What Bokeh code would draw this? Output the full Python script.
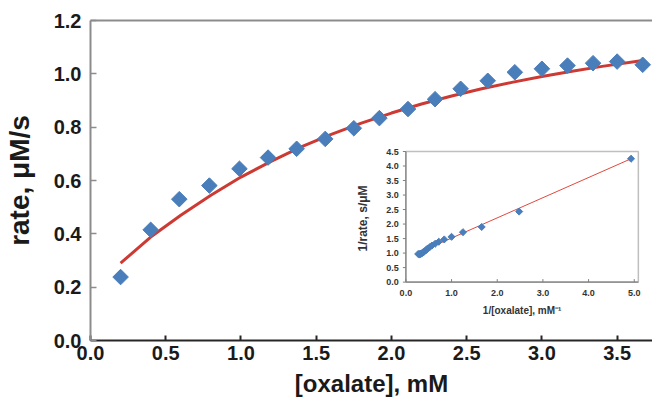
import numpy as np
from bokeh.plotting import figure
from bokeh.models import Range1d, SingleIntervalTicker, NumeralTickFormatter, LinearAxis, FixedTicker
from bokeh.core.properties import value
from bokeh.embed import file_html
from bokeh.resources import INLINE

# ---- data ----
conc = [0.20, 0.40, 0.59, 0.79, 0.99, 1.18, 1.37, 1.56, 1.75, 1.92,
        2.11, 2.29, 2.46, 2.64, 2.82, 3.00, 3.17, 3.34, 3.50, 3.67]
rate = [0.238, 0.415, 0.530, 0.581, 0.644, 0.686, 0.719, 0.756, 0.796, 0.834,
        0.868, 0.905, 0.944, 0.974, 1.006, 1.019, 1.031, 1.040, 1.046, 1.034]

fit_conc = [0.20, 0.40, 0.60, 0.80, 1.00, 1.20, 1.40, 1.60, 1.80, 2.00,
            2.20, 2.40, 2.60, 2.80, 3.00, 3.20, 3.40, 3.67]
fit_rate = [0.290, 0.388, 0.470, 0.545, 0.613, 0.672, 0.726, 0.773, 0.815, 0.853,
            0.887, 0.917, 0.944, 0.968, 0.990, 1.010, 1.028, 1.050]

inv_conc = [4.93, 2.48, 1.66, 1.25, 1.00, 0.84, 0.72, 0.64, 0.57, 0.52,
            0.47, 0.44, 0.41, 0.38, 0.35, 0.33, 0.32, 0.30, 0.29, 0.27]
inv_rate = [4.25, 2.43, 1.90, 1.72, 1.56, 1.47, 1.39, 1.32, 1.26, 1.20,
            1.15, 1.10, 1.06, 1.03, 0.99, 0.98, 0.97, 0.96, 0.96, 0.97]

lb_x = [0.27, 4.93]
lb_y = [1.01, 4.25]

inset_xticks = [0.0, 1.0, 2.0, 3.0, 4.0, 5.0]
inset_yticks = [0.0, 0.5, 1.0, 1.5, 2.0, 2.5, 3.0, 3.5, 4.0, 4.5]
inset_xmax = 5.09
inset_ymax = 4.5

BLUE = "#4A7EBB"
RED = "#CC3A33"
SANS = "Liberation Sans"
TXT = "#1a1a1a"
ITXT = "#333333"

# ---- layout geometry (figure pixels) ----
W, H = 652, 403
ML, MR, MT, MB = 88, 0, 20, 63
XMAX, YMAX = 3.735, 1.2001
frame_w = W - ML - MR
frame_h = H - MT - MB
# inset frame box inside the main frame, in pixels from the frame's left / bottom
ins_left, ins_right = 316.5, 549.8
ins_bottom, ins_top = 58.4, 189.0

def extra_range(lo_px, hi_px, vmax, total_px):
    f0 = lo_px / total_px
    f1 = hi_px / total_px
    span = vmax / (f1 - f0)
    s = -f0 * span
    return Range1d(s, s + span)

# ---- main chart ----
p = figure(width=W, height=H, output_backend="svg", toolbar_location=None,
           x_range=Range1d(0, XMAX), y_range=Range1d(0, YMAX),
           min_border_left=ML, min_border_right=MR, min_border_top=MT,
           min_border_bottom=MB)
p.outline_line_color = None
p.grid.visible = False
p.extra_x_ranges = {"ix": extra_range(ins_left, ins_right, inset_xmax, frame_w)}
p.extra_y_ranges = {"iy": extra_range(ins_bottom, ins_top, inset_ymax, frame_h)}

p.line(fit_conc, fit_rate, line_color=RED, line_width=3)
p.scatter(conc, rate, marker="square", angle=np.pi / 4, size=11,
          fill_color=BLUE, line_color=BLUE)

xa = p.xaxis[0]
xa.ticker = SingleIntervalTicker(interval=0.5, num_minor_ticks=0)
xa.formatter = NumeralTickFormatter(format="0.0")
xa.axis_line_color = "#262626"
xa.axis_line_width = 2
xa.major_tick_in = 5
xa.major_tick_out = 0
xa.major_tick_line_color = "#262626"
xa.major_tick_line_width = 2
xa.minor_tick_line_color = None
xa.major_label_text_font = SANS
xa.major_label_text_font_style = "bold"
xa.major_label_text_font_size = "20px"
xa.major_label_text_color = TXT
xa.major_label_standoff = 5
xa.axis_label = "[oxalate], mM"
xa.axis_label_text_font = SANS
xa.axis_label_text_font_style = "bold"
xa.axis_label_text_font_size = "24px"
xa.axis_label_text_color = TXT
xa.axis_label_standoff = 7

ya = p.yaxis[0]
ya.ticker = SingleIntervalTicker(interval=0.2, num_minor_ticks=0)
ya.formatter = NumeralTickFormatter(format="0.0")
ya.axis_line_color = "#8c8c8c"
ya.axis_line_width = 2
ya.major_tick_in = 6
ya.major_tick_out = 0
ya.major_tick_line_color = "#8c8c8c"
ya.major_tick_line_width = 1.5
ya.minor_tick_line_color = None
ya.major_label_text_font = SANS
ya.major_label_text_font_style = "bold"
ya.major_label_text_font_size = "20px"
ya.major_label_text_color = TXT
ya.major_label_standoff = 9
ya.axis_label = "rate, μM/s"
ya.axis_label_text_font = SANS
ya.axis_label_text_font_style = "bold"
ya.axis_label_text_font_size = "28px"
ya.axis_label_text_color = TXT
ya.axis_label_standoff = 16

top_axis = LinearAxis(ticker=FixedTicker(ticks=[]),
                      axis_line_color="#8c8c8c", axis_line_width=2,
                      major_tick_in=0, major_tick_out=0,
                      minor_tick_in=0, minor_tick_out=0)
p.add_layout(top_axis, "above")

# ---- inset (Lineweaver-Burk), drawn on the extra ranges ----
R = dict(x_range_name="ix", y_range_name="iy")
px_per_ix = (ins_right - ins_left) / inset_xmax
px_per_iy = (ins_top - ins_bottom) / inset_ymax
tick_dx = 3.0 / px_per_ix
tick_dy = 3.0 / px_per_iy

p.quad(left=[0], right=[inset_xmax], bottom=[0], top=[inset_ymax],
       fill_color="white", line_color="#bfbfbf", line_width=1.5, **R)
p.segment(x0=[0, 0], y0=[0, 0], x1=[0, inset_xmax], y1=[inset_ymax, 0],
          line_color="#808080", line_width=1.2, **R)
# y ticks (outside) and x ticks (inside)
p.segment(x0=[-tick_dx] * len(inset_yticks), y0=inset_yticks,
          x1=[0] * len(inset_yticks), y1=inset_yticks,
          line_color="#808080", line_width=1, **R)
p.segment(x0=inset_xticks, y0=[0] * len(inset_xticks),
          x1=inset_xticks, y1=[tick_dy] * len(inset_xticks),
          line_color="#808080", line_width=1, **R)

p.line(lb_x, lb_y, line_color="#E0483F", line_width=1, **R)
p.scatter(inv_conc, inv_rate, marker="square", angle=np.pi / 4, size=5,
          fill_color=BLUE, line_color=BLUE, **R)

p.text(x=[0] * len(inset_yticks), y=inset_yticks,
       text=[f"{t:.1f}" for t in inset_yticks],
       x_offset=-7, text_align="right", text_baseline="middle",
       text_font=value(SANS), text_font_style="bold", text_font_size="9px",
       text_color=ITXT, **R)
p.text(x=inset_xticks, y=[0] * len(inset_xticks),
       text=[f"{t:.1f}" for t in inset_xticks],
       y_offset=8, text_align="center", text_baseline="top",
       text_font=value(SANS), text_font_style="bold", text_font_size="9px",
       text_color=ITXT, **R)
p.text(x=[inset_xmax / 2], y=[0], text=["1/[oxalate], mM⁻¹"],
       y_offset=23, text_align="center", text_baseline="top",
       text_font=value(SANS), text_font_style="bold", text_font_size="10px",
       text_color=ITXT, **R)
p.text(x=[0], y=[inset_ymax / 2], text=["1/rate,  s/μM"],
       x_offset=-36, angle=np.pi / 2, text_align="center", text_baseline="bottom",
       text_font=value(SANS), text_font_style="bold", text_font_size="12px",
       text_color=ITXT, **R)

open("out.html", "w").write(file_html(p, INLINE))
